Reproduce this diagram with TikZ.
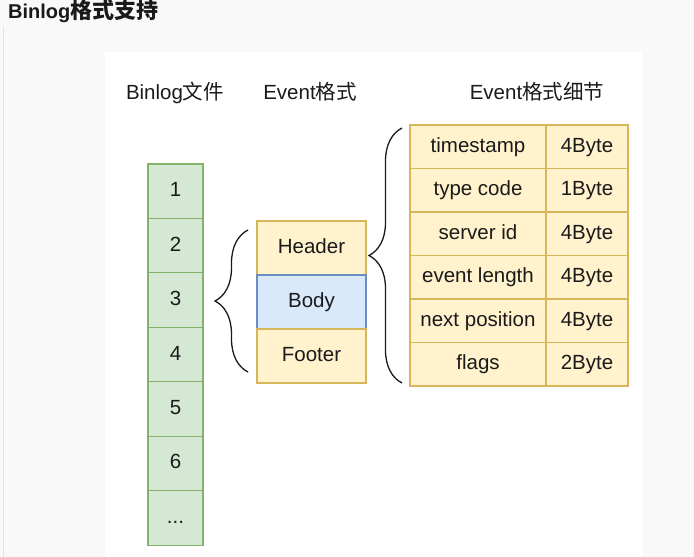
\documentclass[tikz,border=0pt]{standalone}
\usepackage{fontspec}
\setmainfont{Liberation Sans}
\newfontfamily\cjk{Noto Sans CJK SC}
\usetikzlibrary{decorations.pathreplacing}

\definecolor{pagebg}{HTML}{F9F9F9}
\definecolor{edgeline}{HTML}{DCE1EC}
\definecolor{greenfill}{HTML}{D5E8D4}
\definecolor{greenline}{HTML}{82B366}
\definecolor{yellowfill}{HTML}{FFF2CC}
\definecolor{yellowline}{HTML}{D6B656}
\definecolor{bluefill}{HTML}{DAE8FC}
\definecolor{blueline}{HTML}{6C8EBF}
\definecolor{ink}{HTML}{1A1A1A}

\begin{document}
\begin{tikzpicture}[x=1pt, y=-1pt]
		\tikzset{cell/.style={rectangle, inner sep=0pt, line width=1.2pt, text=ink, text height=15pt, text depth=4pt, font=\fontsize{20.5}{24}\selectfont}};
		\tikzset{filecell/.style={cell, draw=greenline, fill=greenfill, minimum width=55pt, minimum height=54.45pt}};
		\tikzset{partcell/.style={cell, draw=yellowline, fill=yellowfill, minimum width=109pt, minimum height=54pt}};
		\tikzset{fieldcell/.style={cell, draw=yellowline, fill=yellowfill, minimum width=136pt, minimum height=43.5pt}};
		\tikzset{sizecell/.style={cell, draw=yellowline, fill=yellowfill, minimum width=82pt, minimum height=43.5pt}};
		\tikzset{caption/.style={text=ink, text height=15pt, text depth=4pt, font=\fontsize{20.5}{24}\selectfont}};
		\tikzset{curly/.style={decorate, decoration={brace, amplitude=33pt}, line width=1.3pt, ink}};

		\useasboundingbox (0,0) rectangle (694,557);
		\fill[pagebg] (0,0) rectangle (694,557);
		\fill[white] (105,52) rectangle (642,557);
		\draw[edgeline, line width=1pt] (3,27) -- (3,557);

		\node[anchor=base west, inner sep=0pt, text=ink] (title) at (8,18) {\fontsize{20}{24}\selectfont\bfseries Binlog{\fontsize{22}{26}\selectfont\cjk\bfseries 格式支持}};

		\node[caption] (hfile) at (175,94) {Binlog{\cjk 文件}};
		\node[caption] (hevent) at (310,94) {Event{\cjk 格式}};
		\node[caption] (hdetail) at (537,94) {Event{\cjk 格式细节}};

		\node[filecell] (f1) at (175.5,191.2) {1};
		\node[filecell] (f2) at (175.5,245.65) {2};
		\node[filecell] (f3) at (175.5,300.1) {3};
		\node[filecell] (f4) at (175.5,354.55) {4};
		\node[filecell] (f5) at (175.5,409) {5};
		\node[filecell] (f6) at (175.5,463.45) {6};
		\node[filecell] (f7) at (175.5,517.9) {...};

		\node[partcell] (header) at (311.5,248) {Header};
		\node[partcell, draw=blueline, fill=bluefill] (body) at (311.5,302) {Body};
		\node[partcell] (footer) at (311.5,356) {Footer};

		\node[fieldcell] (timestamp) at (478,146.75) {timestamp};
		\node[sizecell] (s1) at (587,146.75) {4Byte};
		\node[fieldcell] (typecode) at (478,190.25) {type code};
		\node[sizecell] (s2) at (587,190.25) {1Byte};
		\node[fieldcell] (serverid) at (478,233.75) {server id};
		\node[sizecell] (s3) at (587,233.75) {4Byte};
		\node[fieldcell] (eventlength) at (478,277.25) {event length};
		\node[sizecell] (s4) at (587,277.25) {4Byte};
		\node[fieldcell] (nextpos) at (478,320.75) {next position};
		\node[sizecell] (s5) at (587,320.75) {4Byte};
		\node[fieldcell] (flags) at (478,364.25) {flags};
		\node[sizecell] (s6) at (587,364.25) {2Byte};

		% braces
		\coordinate (eventtop) at (248,230);
		\coordinate (eventbot) at (248,372);
		\coordinate (detailtop) at (402,128);
		\coordinate (detailbot) at (402,383);

		\draw[curly] (eventbot) to (eventtop);
		\draw[curly] (detailbot) to (detailtop);
	\end{tikzpicture}
\end{document}
